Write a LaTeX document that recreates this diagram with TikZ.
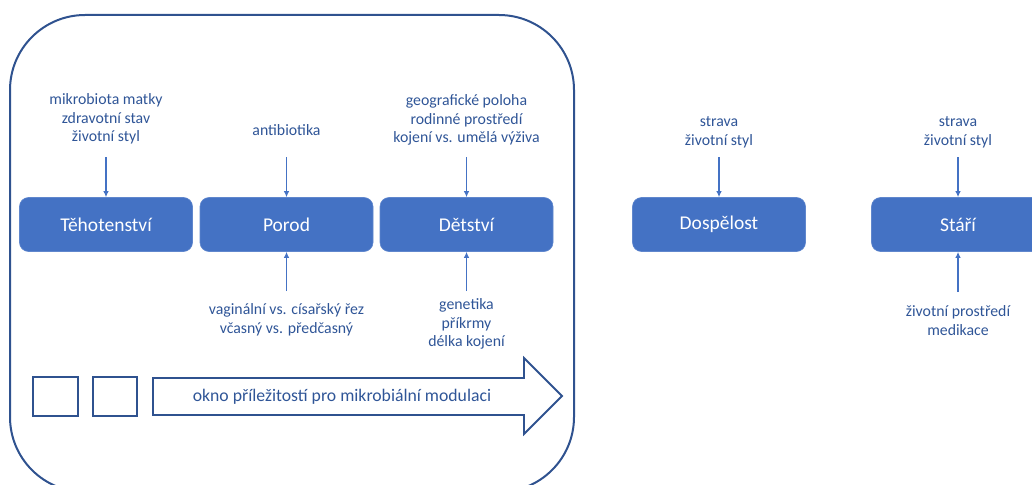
\documentclass[tikz,border=0pt]{standalone}
\usepackage{fontspec}
\setmainfont{Carlito}
\usetikzlibrary{arrows.meta}
\definecolor{dkblue}{HTML}{2F528F}
\definecolor{txtblue}{HTML}{2F5597}
\definecolor{fillblue}{HTML}{4472C4}
\tikzset{
  stage/.style={draw=fillblue!85!white, line width=0.6pt, fill=fillblue, rounded corners=9pt,
    minimum width=173pt, minimum height=54pt, text=white, font=\fontsize{19.5}{22}\selectfont, inner sep=0pt},
  lbl/.style={text=txtblue, align=center, font=\fontsize{15.8}{18.7}\selectfont, inner sep=0pt},
  arr/.style={draw=fillblue, line width=1.3pt, -{Latex[length=6pt,width=5.5pt]}},
  outline/.style={draw=dkblue, line width=2pt},
}
\begin{document}
\begin{tikzpicture}[x=1pt,y=-1pt]
\useasboundingbox (0,0) rectangle (1032,484);
\clip (0,0) rectangle (1032,484);
% big frame
\draw[outline, rounded corners=75pt] (10,15) rectangle (574,492);
% stage boxes
\node[stage] (teh) at (106,224.5) {Těhotenství};
\node[stage] (por) at (286.5,224.5) {Porod};
\node[stage] (det) at (466.5,224.5) {Dětství};
\node[stage] (dos) at (719,224.5) {Dospělost};
\node[stage] (sta) at (958,224.5) {Stáří};
% top labels
\node[lbl] (lteh) at (106,119) {mikrobiota matky\\zdravotní stav\\životní styl};
\node[lbl] (lpor) at (286.5,130) {antibiotika};
\node[lbl] (ldet) at (466.5,120) {geografické poloha\\rodinné prostředí\\kojení vs. umělá výživa};
\node[lbl] (ldos) at (719,132.5) {strava\\životní styl};
\node[lbl] (lsta) at (958,132.5) {strava\\životní styl};
% bottom labels
\node[lbl] (bpor) at (286.5,319.5) {vaginální vs. císařský řez\\včasný vs. předčasný};
\node[lbl] (bdet) at (466.5,324) {genetika\\příkrmy\\délka kojení};
\node[lbl] (bsta) at (958,320.5) {životní prostředí\\medikace};
% arrow start points
\coordinate (s1) at (106,157);
\coordinate (s2) at (286.5,157);
\coordinate (s3) at (466.5,157);
\coordinate (s4) at (719,157);
\coordinate (s5) at (958,157);
\coordinate (u2) at (286.5,291);
\coordinate (u3) at (466.5,291);
\coordinate (u5) at (958,292);
\draw[arr] (s1) -- (teh.north);
\draw[arr] (s2) -- (por.north);
\draw[arr] (s3) -- (det.north);
\draw[arr] (s4) -- (dos.north);
\draw[arr] (s5) -- (sta.north);
\draw[arr] (u2) -- (por.south);
\draw[arr] (u3) -- (det.south);
\draw[arr] (u5) -- (sta.south);
% squares
\draw[outline, line width=1.8pt] (33,377) rectangle (78,416);
\draw[outline, line width=1.8pt] (93,377) rectangle (137,416);
% block arrow
\draw[outline, line width=1.8pt] (153,378) -- (524,378) -- (524,358) -- (562,396) -- (524,434) -- (524,415) -- (153,415) -- cycle;
\node[lbl, font=\fontsize{17.7}{20}\selectfont] (okno) at (342,396.5) {okno příležitostí pro mikrobiální modulaci};
\end{tikzpicture}
\end{document}
